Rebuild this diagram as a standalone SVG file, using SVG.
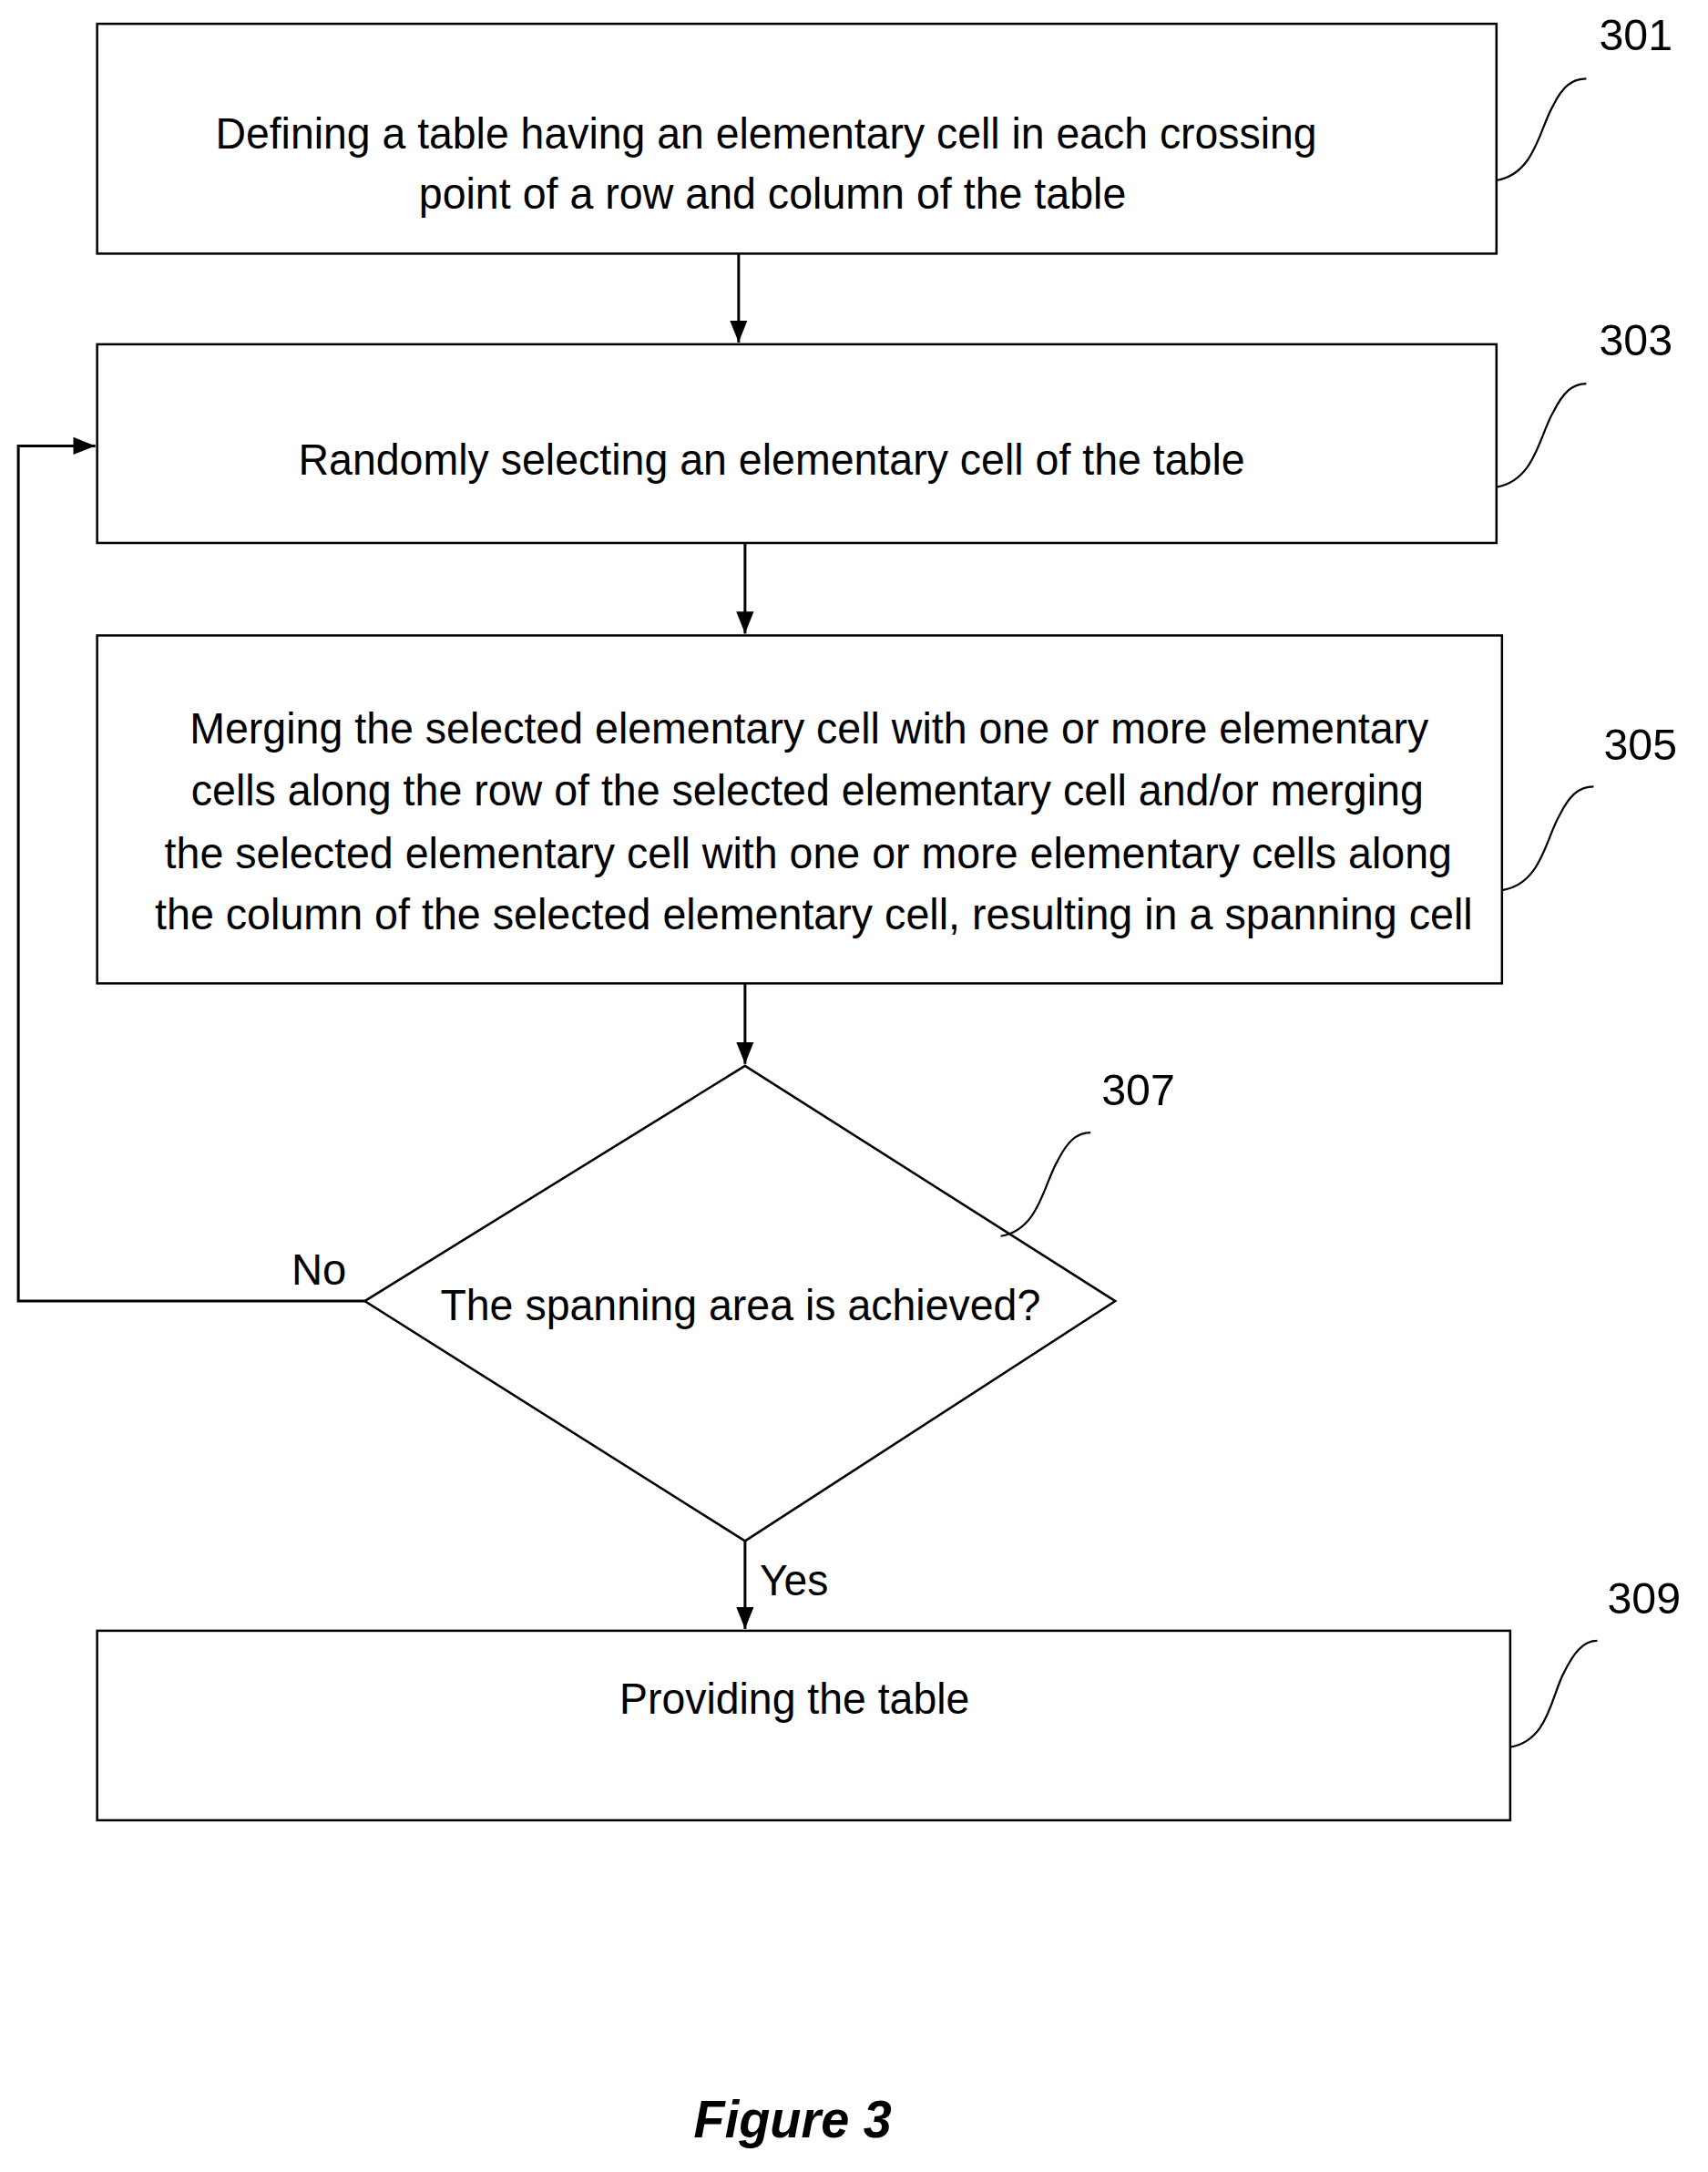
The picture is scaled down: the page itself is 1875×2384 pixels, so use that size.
<svg xmlns="http://www.w3.org/2000/svg" width="1875" height="2384" viewBox="0 0 1875 2384">
<style>
.b{fill:#fff;stroke:#000;stroke-width:2.5}
.t{font-family:"Liberation Sans",Arial,sans-serif;font-size:48px;fill:#000}
.c{text-anchor:middle}
.l{fill:none;stroke:#000;stroke-width:3}
.q{fill:none;stroke:#000;stroke-width:2.2}
</style>
<defs>
<marker id="h" viewBox="0 0 10 10" markerWidth="24" markerHeight="26" refX="10" refY="5" orient="auto" markerUnits="userSpaceOnUse"><path d="M0,1 L10,5 L0,9 Z" fill="#000"/></marker></defs>
<g transform="scale(1.006,1.005)">
<g id="n301"><rect class="b" x="106" y="26" width="1527" height="251"/>
<text class="t c" x="836" y="162" textLength="1202" lengthAdjust="spacingAndGlyphs">Defining a table having an elementary cell in each crossing</text>
<text class="t c" x="843" y="228" textLength="772" lengthAdjust="spacingAndGlyphs">point of a row and column of the table</text>
<path class="q" d="M1633,197 C1675,190 1680,140 1695,115 C1705,95 1715,86 1731,86"/>
<text class="t" x="1745" y="55">301</text></g>
<g id="n303"><rect class="b" x="106" y="376" width="1527" height="217"/>
<text class="t c" x="842" y="518" textLength="1033" lengthAdjust="spacingAndGlyphs">Randomly selecting an elementary cell of the table</text>
<path class="q" d="M1633,532 C1675,525 1680,475 1695,450 C1705,430 1715,419 1731,419"/>
<text class="t" x="1745" y="388">303</text></g>
<g id="n305"><rect class="b" x="106" y="694" width="1533" height="380"/>
<text class="t c" x="883" y="812" textLength="1352" lengthAdjust="spacingAndGlyphs">Merging the selected elementary cell with one or more elementary</text>
<text class="t c" x="881" y="880" textLength="1345" lengthAdjust="spacingAndGlyphs">cells along the row of the selected elementary cell and/or merging</text>
<text class="t c" x="882" y="948" textLength="1405" lengthAdjust="spacingAndGlyphs">the selected elementary cell with one or more elementary cells along</text>
<text class="t c" x="888" y="1015" textLength="1438" lengthAdjust="spacingAndGlyphs">the column of the selected elementary cell, resulting in a spanning cell</text>
<path class="q" d="M1640,972 C1682,965 1687,915 1702,890 C1712,870 1722,859 1739,859"/>
<text class="t" x="1750" y="830">305</text></g>
<g id="n307"><polygon class="b" points="813,1164 1217,1421 813,1683 398,1421"/>
<text class="t c" x="808" y="1442" textLength="655" lengthAdjust="spacingAndGlyphs">The spanning area is achieved?</text>
<path class="q" d="M1092,1350 C1134,1343 1139,1293 1154,1268 C1164,1248 1174,1237 1190,1237"/>
<text class="t" x="1202" y="1207">307</text></g>
<g id="n309"><rect class="b" x="106" y="1781" width="1542" height="207"/>
<text class="t c" x="867" y="1872" textLength="382" lengthAdjust="spacingAndGlyphs">Providing the table</text>
<path class="q" d="M1648,1908 C1690,1901 1693,1851 1707,1826 C1717,1806 1727,1792 1743,1792"/>
<text class="t" x="1754" y="1762">309</text></g>
<g id="connectors">
<line class="l" x1="806" y1="277" x2="806" y2="374" marker-end="url(#h)"/>
<line class="l" x1="813" y1="593" x2="813" y2="692" marker-end="url(#h)"/>
<line class="l" x1="813" y1="1074" x2="813" y2="1162" marker-end="url(#h)"/>
<line class="l" x1="813" y1="1683" x2="813" y2="1779" marker-end="url(#h)"/>
<polyline class="l" points="398,1421 20,1421 20,487 104,487" marker-end="url(#h)"/>
<text class="t" x="318" y="1403" textLength="60" lengthAdjust="spacingAndGlyphs">No</text>
<text class="t" x="829" y="1742" textLength="75" lengthAdjust="spacingAndGlyphs">Yes</text>
</g>
<text x="865" y="2334" text-anchor="middle" font-family="Liberation Sans,Arial,sans-serif" font-size="58" font-weight="bold" font-style="italic" textLength="216" lengthAdjust="spacingAndGlyphs">Figure 3</text>
</g>
</svg>
